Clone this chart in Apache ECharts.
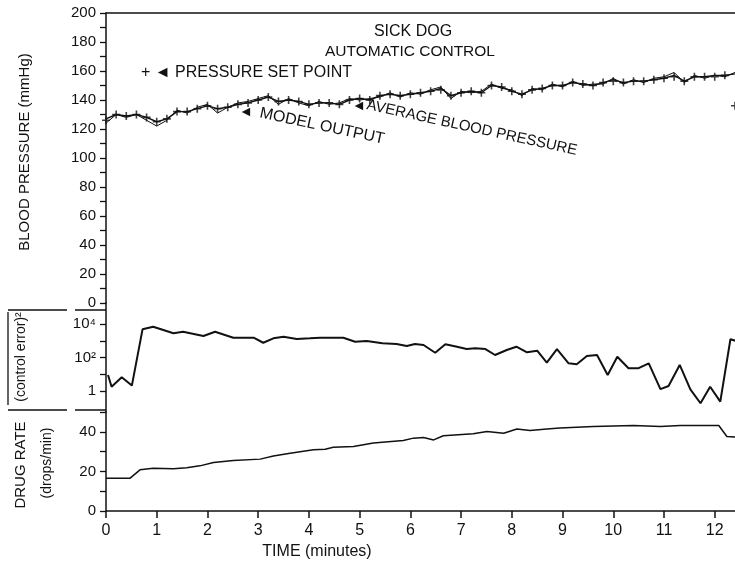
<!DOCTYPE html>
<html>
<head>
<meta charset="utf-8">
<title>Sick dog - automatic control</title>
<script src="https://cdn.jsdelivr.net/npm/echarts@6/dist/echarts.min.js"></script>
<style>
  html, body { margin: 0; padding: 0; background: #fff; }
  #chart { width: 735px; height: 571px; }
</style>
</head>
<body>
<div id="chart"></div>
<script>
// blood pressure panel (mmHg), sampled every 0.2 min
const bpTime = [0, 0.2, 0.4, 0.6, 0.8, 1.0, 1.2, 1.4, 1.6, 1.8, 2.0, 2.2, 2.4, 2.6, 2.8, 3.0,
  3.2, 3.4, 3.6, 3.8, 4.0, 4.2, 4.4, 4.6, 4.8, 5.0, 5.2, 5.4, 5.6, 5.8, 6.0, 6.2, 6.4, 6.6,
  6.8, 7.0, 7.2, 7.4, 7.6, 7.8, 8.0, 8.2, 8.4, 8.6, 8.8, 9.0, 9.2, 9.4, 9.6, 9.8, 10.0, 10.2,
  10.4, 10.6, 10.8, 11.0, 11.2, 11.4, 11.6, 11.8, 12.0, 12.2, 12.4]
const avgBP = [127, 130, 129, 130, 128, 125, 127, 132, 132, 134, 136, 134, 135, 137, 138, 140,
  142, 139, 140, 139, 137, 138, 138, 137, 140, 141, 140, 143, 144, 143, 144, 145, 146, 148,
  143, 145, 146, 145, 150, 149, 146, 144, 147, 148, 150, 150, 152, 151, 150, 152, 154, 152,
  153, 153, 154, 155, 157, 153, 156, 156, 157, 157, 158]
const modelBP = [124, 130, 128, 130, 126, 122, 126, 133, 131, 135, 137, 131, 135, 138, 139, 141,
  143, 137, 141, 138, 136, 139, 137, 138, 141, 140, 141, 142, 145, 142, 145, 144, 147, 149,
  141, 146, 145, 146, 151, 148, 147, 143, 148, 147, 151, 149, 153, 150, 151, 151, 155, 151,
  154, 152, 155, 156, 159, 152, 157, 155, 157, 156, 159]
const setPoint = [126, 130, 129, 130, 128, 125, 127, 132, 132, 134, 136, 134, 135, 137, 138, 140,
  142, 139, 140, 139, 137, 138, 138, 137, 140, 141, 140, 143, 144, 143, 144, 145, 146, 147,
  143, 145, 146, 145, 150, 149, 146, 144, 147, 148, 150, 150, 152, 151, 150, 152, 153, 152,
  153, 153, 154, 155, 156, 153, 156, 156, 156, 157, 136]

// mean squared control error (log scale)
const errTime = [0.04, 0.11, 0.31, 0.51, 0.72, 0.93, 1.33, 1.52, 1.92, 2.15, 2.51, 2.91, 3.10,
  3.30, 3.50, 3.76, 4.02, 4.22, 4.48, 4.68, 4.91, 5.14, 5.45, 5.73, 5.93, 6.09, 6.26, 6.49,
  6.69, 6.92, 7.11, 7.28, 7.48, 7.67, 7.90, 8.09, 8.30, 8.50, 8.69, 8.89, 9.12, 9.28, 9.48,
  9.68, 9.89, 10.08, 10.30, 10.50, 10.70, 10.93, 11.09, 11.31, 11.52, 11.72, 11.91, 12.11,
  12.31, 12.41]
const errValue = [9.0, 1.8, 6.6, 2.1, 4800, 6900, 2780, 3470, 1910, 3470, 1520, 1520, 760,
  1400, 1740, 1260, 1400, 1520, 1520, 1520, 880, 970, 700, 640, 485, 640, 560, 193,
  615, 440, 320, 355, 320, 141, 280, 440, 205, 255, 49, 320, 45, 39, 123,
  141, 9.0, 111, 23, 23, 45, 1.3, 2.0, 36, 1.26, 0.185, 1.8, 0.23,
  1230, 1000]
const errTicks = [1, 10, 100, 1000, 10000]
const errLabelValues = [1, 100, 10000]
const errLabels = { 0: '1', 2: '10²', 4: '10⁴' }

// drug infusion rate (drops/min)
const drugTime = [0, 0.47, 0.67, 0.93, 1.33, 1.59, 1.85, 2.12, 2.51, 3.04, 3.30, 3.63, 4.09,
  4.32, 4.48, 4.88, 5.27, 5.86, 6.06, 6.26, 6.46, 6.65, 7.24, 7.51, 7.84, 8.10, 8.36, 8.69,
  8.95, 9.61, 10.40, 10.93, 11.32, 12.08, 12.24, 12.41]
const drugRate = [16.5, 16.5, 20.8, 21.6, 21.3, 21.9, 22.8, 24.5, 25.5, 26.2, 27.8, 29.2, 30.9,
  31.2, 32.2, 32.6, 34.4, 35.6, 36.8, 37.1, 35.9, 38, 39, 40.2, 39.3, 41.4, 40.7, 41.4,
  41.9, 42.7, 43.2, 42.7, 43.2, 43.2, 37.6, 37.3]

const ink = '#111'
const face = '"Liberation Sans", Arial, sans-serif'
const plusPath = 'path://M-1,-5H1V-1H5V1H1V5H-1V1H-5V-1H-1Z'

const pair = (xs, ys) => xs.map((x, i) => [x, ys[i]])

const axisLine = { show: true, onZero: false, lineStyle: { color: ink, width: 1.5 } }
const axisTick = { show: true, length: 6, lineStyle: { color: ink, width: 1.3 } }

function label(text, x, y, size, extra) {
  return Object.assign({
    type: 'text',
    x: x,
    y: y,
    silent: true,
    style: {
      text: text,
      font: size + 'px ' + face,
      fill: ink,
      textAlign: 'center',
      textVerticalAlign: 'middle',
      align: 'center',
      verticalAlign: 'middle',
    },
  }, extra || {})
}

function leftLabel(text, x, y, size, rotation) {
  const el = label(text, x, y, size, { rotation: rotation || 0 })
  el.style.textAlign = 'left'
  el.style.align = 'left'
  return el
}

function hline(x1, x2, y) {
  return { type: 'line', silent: true, shape: { x1, y1: y, x2, y2: y }, style: { stroke: ink, lineWidth: 1.5 } }
}

const chart = echarts.init(document.getElementById('chart'))

const option = {
  backgroundColor: '#fff',
  animation: false,
  textStyle: { fontFamily: face, color: ink },
  grid: [
    { left: 106, right: 0, top: 13, height: 290 },
    { left: 106, right: 0, top: 303, height: 109 },
    { left: 106, right: 0, top: 412, height: 99 },
  ],
  xAxis: [
    {
      gridIndex: 0, type: 'value', min: 0, max: 12.4, position: 'top',
      axisLine: axisLine, axisTick: { show: false }, axisLabel: { show: false }, splitLine: { show: false },
    },
    { gridIndex: 1, type: 'value', min: 0, max: 12.4, show: false },
    {
      gridIndex: 2, type: 'value', min: 0, max: 12.4, interval: 1,
      axisLine: axisLine,
      axisTick: { show: true, length: 7, lineStyle: { color: ink, width: 1.5 } },
      axisLabel: { color: ink, fontSize: 16, fontFamily: face, margin: 12, showMaxLabel: false },
      splitLine: { show: false },
    },
  ],
  yAxis: [
    {
      gridIndex: 0, type: 'value', min: 0, max: 200, interval: 10,
      axisLine: axisLine, axisTick: axisTick, splitLine: { show: false },
      axisLabel: {
        color: ink, fontSize: 15, fontFamily: face, margin: 10,
        formatter: (v) => v % 20 === 0 ? String(v) : '',
      },
    },
    {
      gridIndex: 1, type: 'log', logBase: 10, min: 0.0557, max: 179500,
      axisLine: axisLine,
      axisTick: Object.assign({}, axisTick, { customValues: errTicks }),
      splitLine: { show: false },
      axisLabel: {
        color: ink, fontSize: 15, fontFamily: face, margin: 10,
        customValues: errLabelValues,
        formatter: (v) => errLabels[Math.round(Math.log10(v))] || '',
      },
    },
    {
      gridIndex: 2, type: 'value', min: 0, max: 50, interval: 10,
      axisLine: axisLine, axisTick: axisTick, splitLine: { show: false },
      axisLabel: {
        color: ink, fontSize: 15, fontFamily: face, margin: 10,
        formatter: (v) => (v % 20 === 0 && v < 50) ? String(v) : '',
      },
    },
  ],
  series: [
    {
      name: 'AVERAGE BLOOD PRESSURE', type: 'line', xAxisIndex: 0, yAxisIndex: 0,
      data: pair(bpTime, avgBP), symbol: 'none', silent: true,
      lineStyle: { color: ink, width: 1.4 },
    },
    {
      name: 'MODEL OUTPUT', type: 'line', xAxisIndex: 0, yAxisIndex: 0,
      data: pair(bpTime, modelBP), symbol: 'none', silent: true,
      lineStyle: { color: ink, width: 1 },
    },
    {
      name: 'PRESSURE SET POINT', type: 'scatter', xAxisIndex: 0, yAxisIndex: 0,
      data: pair(bpTime, setPoint), symbol: plusPath, symbolSize: 8, silent: true,
      itemStyle: { color: ink },
    },
    {
      name: '(control error)²', type: 'line', xAxisIndex: 1, yAxisIndex: 1,
      data: pair(errTime, errValue), symbol: 'none', silent: true,
      lineStyle: { color: ink, width: 2 },
    },
    {
      name: 'DRUG RATE', type: 'line', xAxisIndex: 2, yAxisIndex: 2,
      data: pair(drugTime, drugRate), symbol: 'none', silent: true,
      lineStyle: { color: ink, width: 1.5 },
    },
  ],
  graphic: [
    label('SICK DOG', 413, 32, 16),
    label('AUTOMATIC CONTROL', 410, 52, 15.5),
    leftLabel('+ ◄ PRESSURE SET POINT', 141, 73, 16),
    leftLabel('◄', 239, 112, 14),
    leftLabel('MODEL OUTPUT', 260, 113, 16, -0.21),
    leftLabel('◄', 352, 106, 14),
    leftLabel('AVERAGE BLOOD PRESSURE', 367, 105, 15, -0.215),
    label('TIME (minutes)', 317, 552, 16),
    label('BLOOD PRESSURE (mmHg)', 25, 152, 15, { rotation: Math.PI / 2 }),
    label('(control error)²', 21, 357, 14, { rotation: Math.PI / 2 }),
    label('DRUG RATE', 21, 465, 15, { rotation: Math.PI / 2 }),
    label('(drops/min)', 47, 463, 14, { rotation: Math.PI / 2 }),
    // panel separators and the mean bar over the error label
    hline(8, 67, 310),
    hline(75, 106, 310),
    hline(8, 67, 410),
    hline(75, 106, 410),
    { type: 'line', silent: true, shape: { x1: 8, y1: 312, x2: 8, y2: 405 }, style: { stroke: ink, lineWidth: 1.3 } },
  ],
}

chart.setOption(option)
</script>
</body>
</html>
